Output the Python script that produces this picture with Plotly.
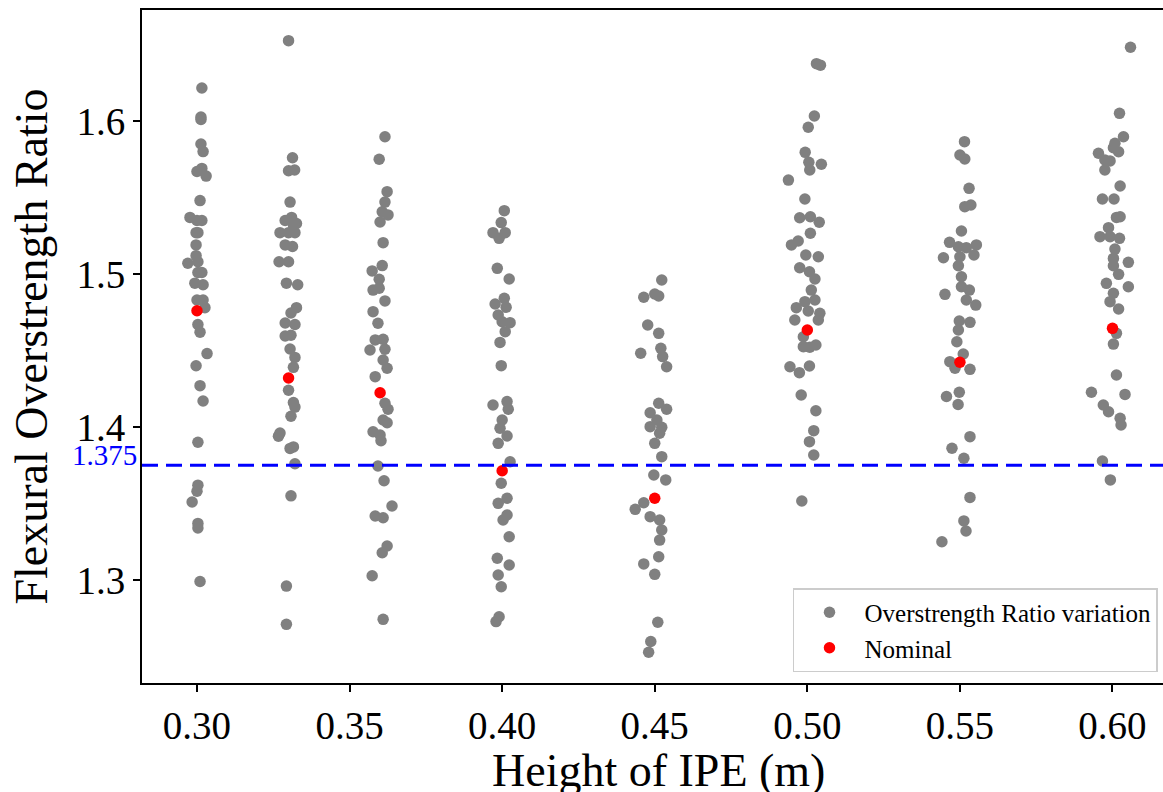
import plotly.graph_objects as go

# ---- data ----
heights = [0.30, 0.33, 0.36, 0.40, 0.45, 0.50, 0.55, 0.60]
nominal = [1.4760, 1.4320, 1.4224, 1.3714, 1.3534, 1.4634, 1.4423, 1.4645]
threshold = 1.375

# per-height samples: jitter (m) around the nominal height, and ratio values
jit_030 = [.0016, .0013, .0013, .0013, .0020, .0000, .0016, .0030, .0010, -.0023, .0000, .0016, .0003, -.0003,
           -.0003, -.0003, -.0030, .0003, .0003, .0016, -.0007, .0020, .0000, .0020, .0026, .0003, .0010,
           .0033, -.0003, .0010, .0020, .0003, .0003, .0000, -.0016, .0003, .0003, .0010]
val_030 = [1.6216, 1.6026, 1.6010, 1.5850, 1.5800, 1.5670, 1.5690, 1.5640, 1.5480, 1.5370, 1.5350, 1.5350, 1.5270,
           1.5270, 1.5190, 1.5120, 1.5070, 1.5080, 1.5010, 1.5010, 1.4940, 1.4930, 1.4830, 1.4830, 1.4780, 1.4670,
           1.4620, 1.4480, 1.4400, 1.4270, 1.4170, 1.3900, 1.3620, 1.3580, 1.3510, 1.3370, 1.3340, 1.2990]

jit_033 = [.0000, .0013, .0000, .0020, .0005, -.0011, .0010, .0026, -.0028, .0000, .0021, .0016, -.0011, .0013,
           -.0031, .0000, -.0007, .0030, .0026, .0008, -.0011, .0021, -.0011, .0008, .0005, .0021, .0016,
           .0000, .0016, .0021, .0008, -.0028, -.0033, .0005, .0016, .0021, .0008, -.0007, -.0007]
val_033 = [1.6525, 1.5760, 1.5675, 1.5680, 1.5470, 1.5350, 1.5370, 1.5330, 1.5270, 1.5270, 1.5270, 1.5320, 1.5190,
           1.5180, 1.5080, 1.5080, 1.4940, 1.4930, 1.4780, 1.4745, 1.4680, 1.4670, 1.4595, 1.4600, 1.4510, 1.4455,
           1.4390, 1.4240, 1.4160, 1.4130, 1.4070, 1.3960, 1.3940, 1.3860, 1.3870, 1.3760, 1.3550, 1.2960, 1.2710]

jit_036 = [.0016, -.0003, .0023, .0016, .0007, .0026, .0000, .0010, -.0026, .0007, -.0003, -.0023, -.0003, .0016,
           -.0023, -.0007, -.0016, .0010, -.0033, .0016, .0010, .0023, -.0016, .0016, .0026, .0010, .0023,
           -.0023, .0000, .0003, -.0007, .0013, .0039, -.0016, .0010, .0023, .0007, -.0026, .0010]
val_036 = [1.5897, 1.5750, 1.5538, 1.5470, 1.5407, 1.5386, 1.5340, 1.5205, 1.5020, 1.5055, 1.4966, 1.4895, 1.4907,
           1.4824, 1.4754, 1.4678, 1.4569, 1.4573, 1.4503, 1.4508, 1.4438, 1.4384, 1.4329, 1.4155, 1.4116, 1.4046,
           1.4028, 1.3969, 1.3948, 1.3910, 1.3745, 1.3649, 1.3484, 1.3418, 1.3407, 1.3222, 1.3178, 1.3028, 1.2743]

jit_040 = [.0007, -.0003, -.0030, .0010, -.0010, -.0016, .0023, -.0023, .0007, .0013, -.0013, .0000, .0026, .0010,
           -.0007, -.0003, -.0030, .0016, .0020, .0000, -.0007, .0016, -.0013, .0026, -.0003, .0016, -.0013,
           .0016, .0003, .0023, -.0016, .0023, -.0013, -.0003, -.0010, -.0020]
val_040 = [1.5414, 1.5336, 1.5270, 1.5270, 1.5233, 1.5037, 1.4967, 1.4804, 1.4841, 1.4782, 1.4732, 1.4688, 1.4682,
           1.4623, 1.4553, 1.4401, 1.4144, 1.4166, 1.4116, 1.4046, 1.3992, 1.3941, 1.3893, 1.3773, 1.3632, 1.3534,
           1.3501, 1.3425, 1.3392, 1.3283, 1.3142, 1.3098, 1.3033, 1.2956, 1.2760, 1.2728]

jit_045 = [.0023, -.0036, .0000, .0013, -.0023, .0013, -.0046, .0020, .0026, .0039, .0013, .0039, -.0015, .0007,
           -.0015, .0023, .0016, .0000, .0023, -.0003, .0036, -.0064, -.0036, -.0015, .0016, .0023, .0016,
           -.0036, .0013, .0000, .0010, -.0013, -.0020]
val_045 = [1.4961, 1.4848, 1.4869, 1.4856, 1.4667, 1.4612, 1.4482, 1.4514, 1.4460, 1.4394, 1.4155, 1.4116, 1.4093,
           1.4046, 1.4002, 1.3998, 1.3959, 1.3893, 1.3806, 1.3686, 1.3654, 1.3462, 1.3505, 1.3414, 1.3392, 1.3327,
           1.3261, 1.3105, 1.3152, 1.3037, 1.2724, 1.2598, 1.2528]

jit_050 = [.0030, .0043, .0023, .0003, -.0007, .0005, .0046, .0008, -.0062, -.0008, -.0025, .0010, .0039, .0010,
           -.0052, -.0030, -.0005, .0036, -.0025, .0007, .0025, .0013, .0025, -.0008, -.0036, .0003, .0041,
           .0036, -.0041, -.0013, -.0013, .0008, .0028, -.0057, -.0026, .0007, -.0020, .0028, .0021, .0007,
           .0021, -.0018]
val_050 = [1.6375, 1.6365, 1.6033, 1.5959, 1.5795, 1.5730, 1.5717, 1.5680, 1.5614, 1.5490, 1.5368, 1.5374, 1.5338,
           1.5266, 1.5190, 1.5216, 1.5124, 1.5113, 1.5041, 1.5015, 1.4967, 1.4895, 1.4830, 1.4819, 1.4780, 1.4758,
           1.4743, 1.4699, 1.4699, 1.4590, 1.4525, 1.4521, 1.4536, 1.4394, 1.4355, 1.4399, 1.4209, 1.4106, 1.3976,
           1.3904, 1.3817, 1.3516]

jit_055 = [.0015, .0000, .0016, .0030, .0016, .0036, .0005, -.0034, -.0005, .0021, .0054, -.0054, .0000, .0046,
           -.0005, .0005, .0005, .0031, -.0049, .0021, .0052, -.0002, .0033, -.0005, -.0010, -.0033, .0011,
           -.0016, .0033, -.0044, -.0002, -.0006, .0033, -.0026, .0013, .0033, .0013, .0020, -.0059]
val_055 = [1.5865, 1.5778, 1.5752, 1.5560, 1.5440, 1.5451, 1.5281, 1.5207, 1.5178, 1.5172, 1.5190, 1.5106, 1.5113,
           1.5124, 1.5054, 1.4982, 1.4917, 1.4895, 1.4867, 1.4830, 1.4797, 1.4693, 1.4684, 1.4634, 1.4557, 1.4427,
           1.4477, 1.4384, 1.4377, 1.4199, 1.4227, 1.4147, 1.3937, 1.3861, 1.3796, 1.3540, 1.3386, 1.3320, 1.3250]

jit_060 = [.0059, .0023, .0036, .0008, .0020, .0003, -.0046, -.0025, -.0008, -.0025, .0025, -.0033, .0005, .0013,
           .0025, -.0013, -.0041, -.0008, .0023, .0008, .0003, .0052, .0003, .0020, -.0020, .0052, .0003,
           -.0008, .0020, .0013, .0003, .0013, -.0069, .0041, -.0030, -.0013, .0025, .0028, -.0033, -.0007]
val_060 = [1.6482, 1.6050, 1.5897, 1.5854, 1.5799, 1.5825, 1.5789, 1.5745, 1.5739, 1.5680, 1.5575, 1.5490, 1.5490,
           1.5370, 1.5374, 1.5303, 1.5244, 1.5244, 1.5233, 1.5163, 1.5102, 1.5076, 1.5054, 1.4998, 1.4939, 1.4917,
           1.4874, 1.4819, 1.4771, 1.4612, 1.4542, 1.4340, 1.4227, 1.4213, 1.4144, 1.4100, 1.4057, 1.4013, 1.3778,
           1.3654]

jitters = [jit_030, jit_033, jit_036, jit_040, jit_045, jit_050, jit_055, jit_060]
values = [val_030, val_033, val_036, val_040, val_045, val_050, val_055, val_060]

x_tick_vals = [0.30, 0.35, 0.40, 0.45, 0.50, 0.55, 0.60]
x_tick_text = ["0.30", "0.35", "0.40", "0.45", "0.50", "0.55", "0.60"]
y_tick_vals = [1.3, 1.4, 1.5, 1.6]
y_tick_text = ["1.3", "1.4", "1.5", "1.6"]
x_title = "Height of IPE (m)"
y_title = "Flexural Overstrength Ratio"

# ---- build ----
xs, ys = [], []
for h, jl, vl in zip(heights, jitters, values):
    for j, v in zip(jl, vl):
        xs.append(h + j)
        ys.append(v)

FONT = "Liberation Serif, Times New Roman, serif"

fig = go.Figure()
fig.add_trace(go.Scatter(x=xs, y=ys, mode="markers", name="Overstrength Ratio variation",
                         marker=dict(color="#808080", size=11.5, line=dict(width=0))))
fig.add_trace(go.Scatter(x=heights, y=nominal, mode="markers", name="Nominal",
                         marker=dict(color="#ff0000", size=11.5, line=dict(width=0))))

fig.add_shape(type="line", xref="paper", x0=0, x1=1, yref="y", y0=threshold, y1=threshold,
              line=dict(color="#0000ff", width=3, dash="16px,8px"), layer="above")
fig.add_annotation(xref="paper", x=0, yref="y", y=threshold, text=f"{threshold}", showarrow=False,
                   xanchor="right", yanchor="bottom", xshift=-3, yshift=-8,
                   font=dict(family=FONT, size=29, color="#0000ff"))
# x-axis title (placed as annotation so it may sit partly below the page edge as in the reference)
fig.add_annotation(xref="paper", x=0.5, yref="paper", y=0, text=x_title, showarrow=False,
                   xanchor="center", yanchor="top", xshift=6, yshift=-60,
                   font=dict(family=FONT, size=46, color="black"))

fig.update_layout(
    width=1163, height=792,
    margin=dict(l=142, r=0, t=10, b=109, autoexpand=False),
    plot_bgcolor="white", paper_bgcolor="white",
    font=dict(family=FONT, color="black"),
    showlegend=True,
    legend=dict(x=0.6376, y=0.1411, xanchor="left", yanchor="top",
                bgcolor="rgba(255,255,255,0.8)", bordercolor="#cccccc", borderwidth=1.5,
                font=dict(family=FONT, size=25, color="black"), itemwidth=60),
)
fig.update_xaxes(range=[0.28198, 0.61655], tickvals=x_tick_vals, ticktext=x_tick_text,
                 showgrid=False, zeroline=False, showline=True, linecolor="black", linewidth=2,
                 mirror=True, ticks="outside", ticklen=7, tickwidth=1.5, tickcolor="black",
                 tickfont=dict(family=FONT, size=39, color="black"))
fig.update_yaxes(range=[1.23268, 1.67255], tickvals=y_tick_vals, ticktext=y_tick_text,
                 showgrid=False, zeroline=False, showline=True, linecolor="black", linewidth=2,
                 ticks="outside", ticklen=7, tickwidth=1.5, tickcolor="black",
                 tickfont=dict(family=FONT, size=39, color="black"),
                 title=dict(text=y_title, font=dict(family=FONT, size=46, color="black"), standoff=14))

fig.write_html("out.html")
